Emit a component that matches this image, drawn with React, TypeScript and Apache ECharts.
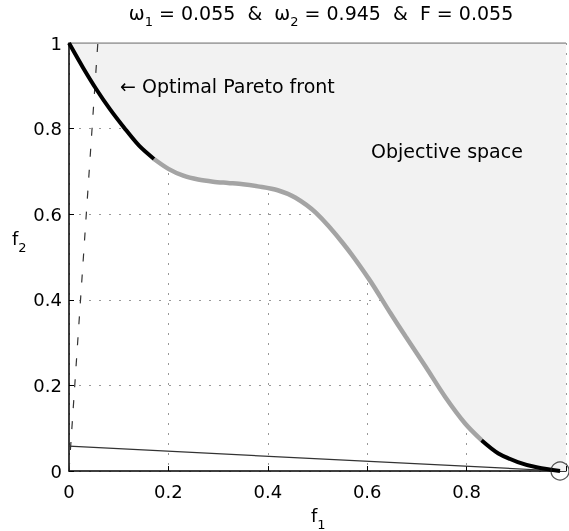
import React, { useEffect, useRef } from 'react';
import * as echarts from 'echarts';

// Pareto front (f1, f2)
const frontF1 = [0, 0.028, 0.055, 0.082, 0.111, 0.141, 0.171, 0.2, 0.23, 0.26, 0.29, 0.32, 0.35, 0.38, 0.42, 0.455, 0.497, 0.552, 0.605, 0.645, 0.678, 0.718, 0.757, 0.797, 0.83, 0.864, 0.903, 0.943, 0.988];
const frontF2 = [1, 0.943, 0.892, 0.846, 0.802, 0.76, 0.729, 0.706, 0.69, 0.681, 0.676, 0.673, 0.67, 0.665, 0.656, 0.639, 0.603, 0.531, 0.446, 0.372, 0.313, 0.243, 0.173, 0.111, 0.072, 0.041, 0.021, 0.008, 0];
// indices where the optimal (black) parts meet the grey part
const optimalEndIdx = 6;
const optimalStartIdx = 24;

// corner of the objective space beyond the front
const spaceCornerF1 = [1];
const spaceCornerF2 = [0];

// weight direction (dashed) and supporting line (solid)
const weightF1 = [0, 0.058];
const weightF2 = [0, 1];
const supportF1 = [0, 0.988];
const supportF2 = [0.058, 0];

// optimum found
const optimumF1 = [0.988];
const optimumF2 = [0];

// upper bound of objective space
const boundF1 = [0, 1];
const boundF2 = [1, 1];

const xTickLabels = ['0', '0.2', '0.4', '0.6', '0.8', ''];
const yTickLabels = ['0', '0.2', '0.4', '0.6', '0.8', '1'];

const FONT = 'DejaVu Sans';

const pts = (xs: number[], ys: number[]) => xs.map((x, i) => [x, ys[i]]);

export default function App() {
  const ref = useRef<HTMLDivElement>(null);
  useEffect(() => {
    if (!ref.current) return;
    const chart = echarts.init(ref.current, undefined, { renderer: 'svg' });
    const front = pts(frontF1, frontF2);
    const fillData = front.concat(pts(spaceCornerF1, spaceCornerF2));
    const lineBase = { type: 'line', symbol: 'none', silent: true, smooth: 0.3 };
    const subRich = {
      f: { fontFamily: FONT, fontSize: 18, lineHeight: 19, fill: '#000', verticalAlign: 'top' },
      s: { fontFamily: FONT, fontSize: 13, lineHeight: 14, fill: '#000', verticalAlign: 'top', padding: [12, 0, 0, 0] },
    };
    chart.setOption({
      animation: false,
      title: {
        text: '{a|ω}{s|1}{a| = 0.055  &  ω}{s|2}{a| = 0.945  &  F = 0.055}',
        left: 321,
        top: 3,
        padding: 0,
        textAlign: 'center',
        textStyle: {
          fontWeight: 'normal',
          rich: {
            a: { fontFamily: FONT, fontSize: 19, fontWeight: 'normal', lineHeight: 20, color: '#000', verticalAlign: 'top' },
            s: { fontFamily: FONT, fontSize: 13, fontWeight: 'normal', lineHeight: 14, color: '#000', verticalAlign: 'top', padding: [12, 0, 0, 0] },
          },
        },
      },
      grid: { left: 69, top: 43, width: 503, height: 428 },
      xAxis: {
        type: 'value',
        min: 0,
        max: 1,
        interval: 0.2,
        axisLine: { lineStyle: { color: '#000', width: 1.5 } },
        axisTick: { inside: true, length: 5, lineStyle: { color: '#000', width: 1 } },
        axisLabel: {
          formatter: (v: number) => xTickLabels[Math.round(v / 0.2)],
          margin: 11,
          fontSize: 18,
          lineHeight: 18,
          fontFamily: FONT,
          color: '#000',
        },
        splitLine: { show: true, lineStyle: { type: [2, 8], color: '#999', width: 1 } },
      },
      yAxis: {
        type: 'value',
        min: 0,
        max: 1,
        interval: 0.2,
        axisLine: { lineStyle: { color: '#000', width: 1.5 } },
        axisTick: { inside: true, length: 5, lineStyle: { color: '#000', width: 1 } },
        axisLabel: {
          formatter: (v: number) => yTickLabels[Math.round(v / 0.2)],
          margin: 7,
          fontSize: 18,
          fontFamily: FONT,
          color: '#000',
        },
        splitLine: { show: true, lineStyle: { type: [2, 8], color: '#999', width: 1 } },
      },
      graphic: [
        {
          type: 'text',
          x: 120,
          y: 86,
          z: 100,
          style: { text: '← Optimal Pareto front', fontFamily: FONT, fontSize: 19, fill: '#000', verticalAlign: 'middle' },
        },
        {
          type: 'text',
          x: 371,
          y: 151,
          z: 100,
          style: { text: 'Objective space', fontFamily: FONT, fontSize: 19, fill: '#000', verticalAlign: 'middle' },
        },
        {
          type: 'text',
          x: 12,
          y: 229,
          z: 100,
          style: { text: '{f|f}{s|2}', rich: subRich },
        },
        {
          type: 'text',
          x: 311,
          y: 506,
          z: 100,
          style: { text: '{f|f}{s|1}', rich: subRich },
        },
      ],
      series: [
        {
          ...lineBase,
          data: fillData,
          lineStyle: { width: 0 },
          areaStyle: { origin: 'end', color: '#f2f2f2', opacity: 1 },
          z: 1,
        },
        {
          ...lineBase,
          smooth: false,
          data: pts(boundF1, boundF2),
          lineStyle: { color: '#8a8a8a', width: 1.5 },
          z: 3,
        },
        {
          ...lineBase,
          smooth: false,
          data: pts(weightF1, weightF2),
          lineStyle: { color: '#333', width: 1.2, type: [8, 13] },
          z: 3,
        },
        {
          ...lineBase,
          smooth: false,
          data: pts(supportF1, supportF2),
          lineStyle: { color: '#333', width: 1.2 },
          z: 3,
        },
        {
          ...lineBase,
          data: front.slice(optimalEndIdx, optimalStartIdx + 1),
          lineStyle: { color: '#a4a4a4', width: 4.5 },
          z: 4,
        },
        {
          ...lineBase,
          data: front.slice(0, optimalEndIdx + 1),
          lineStyle: { color: '#000', width: 4 },
          z: 5,
        },
        {
          ...lineBase,
          data: front.slice(optimalStartIdx),
          lineStyle: { color: '#000', width: 4 },
          z: 5,
        },
        {
          type: 'scatter',
          silent: true,
          data: pts(optimumF1, optimumF2),
          symbol: 'circle',
          symbolSize: 18,
          itemStyle: { color: 'transparent', borderColor: '#222', borderWidth: 1.2 },
          z: 6,
        },
      ],
    });
    return () => chart.dispose();
  }, []);
  return <div ref={ref} style={{ position: 'fixed', left: 0, top: 0, width: 569, height: 531 }} />;
}
